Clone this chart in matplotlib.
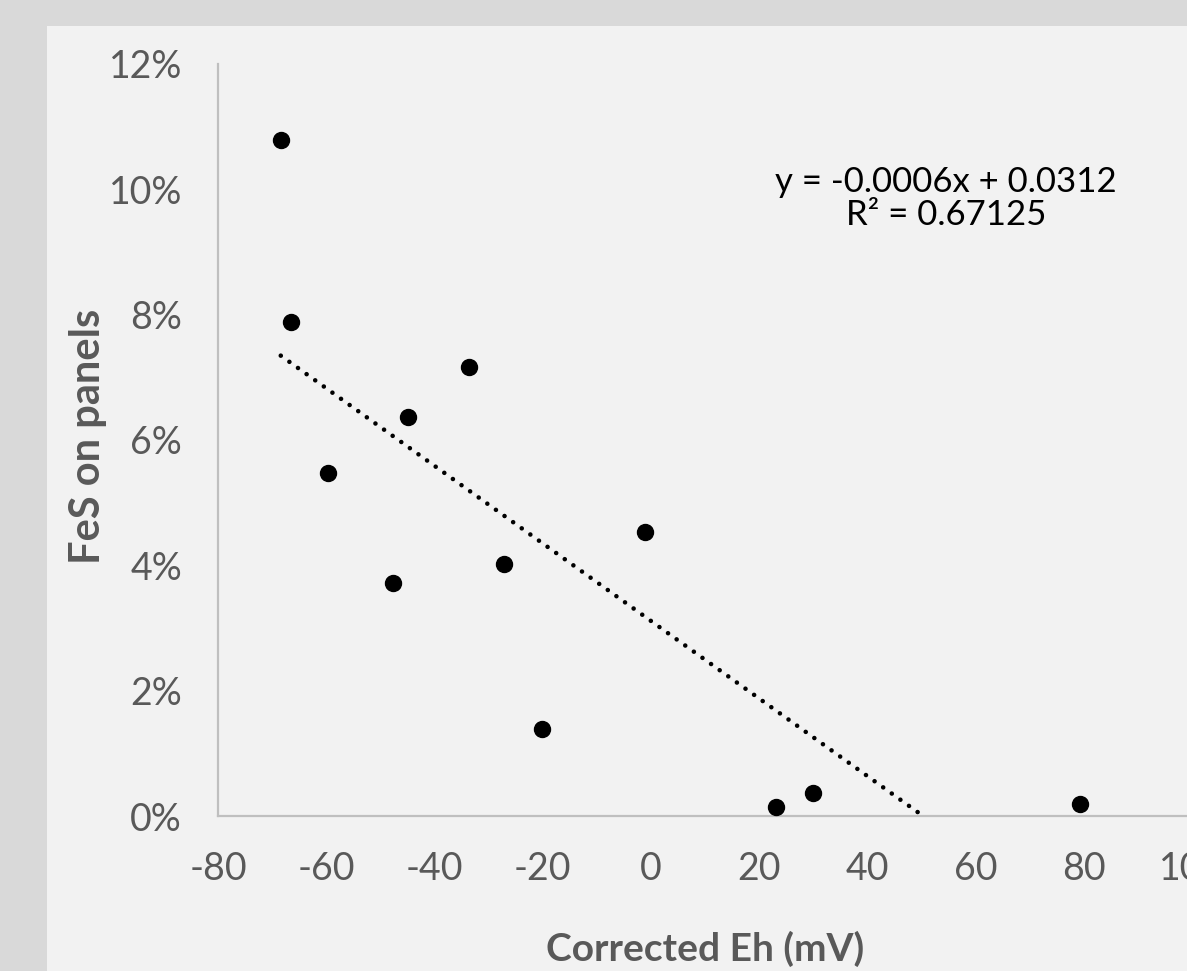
"""
FeS 覆盖率与校正 Eh 的散点图 + 线性趋势线
"""

import numpy as np
import matplotlib
matplotlib.use('Agg')
import matplotlib.pyplot as plt
from matplotlib.patches import Rectangle
from matplotlib.ticker import FuncFormatter

# ============================================================================
# 数据
# ============================================================================
eh_mv = [-68.4, -66.5, -59.7, -47.7, -44.9, -33.6, -27.2, -20.1, -1.1, 23.1, 29.9, 79.3]
fes_frac = [0.1078, 0.0789, 0.0547, 0.0372, 0.0636, 0.0716, 0.0402, 0.0139, 0.0453, 0.0014, 0.0037, 0.0019]

x_ticks = [-80, -60, -40, -20, 0, 20, 40, 60, 80, 100]
y_ticks = [0, 0.02, 0.04, 0.06, 0.08, 0.10, 0.12]

eq_text = "y = -0.0006x + 0.0312"
r2_text = "R² = 0.67125"

# ============================================================================
# 样式
# ============================================================================
plt.rcParams['font.family'] = ['Lato', 'DejaVu Sans']
plt.rcParams['axes.unicode_minus'] = False
GRAY_TEXT = '#595959'
AXIS_GRAY = '#bfbfbf'

fig = plt.figure(figsize=(11.87, 9.71), dpi=100)
fig.patch.set_facecolor('#d9d9d9')

# 图表区背景
fig.add_artist(Rectangle((47 / 1187, 0), 1.0, (971 - 26) / 971,
                         transform=fig.transFigure, facecolor='#f2f2f2',
                         edgecolor='none', zorder=-1))

AX_L, AX_R, AX_T, AX_B = 218, 1192, 64, 816
ax = fig.add_axes([AX_L / 1187, (971 - AX_B) / 971, (AX_R - AX_L) / 1187, (AX_B - AX_T) / 971])
ax.set_facecolor('none')
ax.set_zorder(1)

# 散点
ax.plot(eh_mv, fes_frac, 'o', color='black', markersize=11.5, zorder=3, clip_on=False)

# 线性趋势线（截到 y=0）
slope, intercept = np.polyfit(eh_mv, fes_frac, 1)
x0 = min(eh_mv)
x1 = -intercept / slope
ax.plot([x0, x1], [slope * x0 + intercept, 0], color='black', linewidth=3.3,
        linestyle=(0, (0.01, 2.3)), dash_capstyle='round', zorder=2)

# 坐标轴
ax.set_xlim(-80, 100)
ax.set_ylim(0, 0.12)
ax.set_xticks(x_ticks)
ax.set_yticks(y_ticks)
ax.yaxis.set_major_formatter(FuncFormatter(lambda v, _: f"{v * 100:.0f}%"))

for side in ['top', 'right']:
    ax.spines[side].set_visible(False)
for side in ['left', 'bottom']:
    ax.spines[side].set_color(AXIS_GRAY)
    ax.spines[side].set_linewidth(1.6)

ax.tick_params(axis='both', length=0, labelsize=27, labelcolor=GRAY_TEXT)
ax.tick_params(axis='x', pad=25)
ax.tick_params(axis='y', pad=26)

ax.set_xlabel('Corrected Eh (mV)', fontsize=28, fontweight='bold', color=GRAY_TEXT)
ax.set_ylabel('FeS on panels', fontsize=30, fontweight='bold', color=GRAY_TEXT)
ax.xaxis.set_label_coords(0.5, -(961 - AX_B) / (AX_B - AX_T))
ax.xaxis.label.set_va('baseline')
ax.yaxis.set_label_coords(-(AX_L - 88) / (AX_R - AX_L), (AX_B - 436) / (AX_B - AX_T))
ax.yaxis.label.set_va('center')

# 趋势线公式
fig.text(946 / 1187, 1 - 182 / 971, eq_text, fontsize=25, color='black',
         ha='center', va='center')
fig.text(946 / 1187, 1 - 215 / 971, r2_text, fontsize=25, color='black',
         ha='center', va='center')

fig.savefig('out.png', dpi=100, facecolor=fig.get_facecolor())
